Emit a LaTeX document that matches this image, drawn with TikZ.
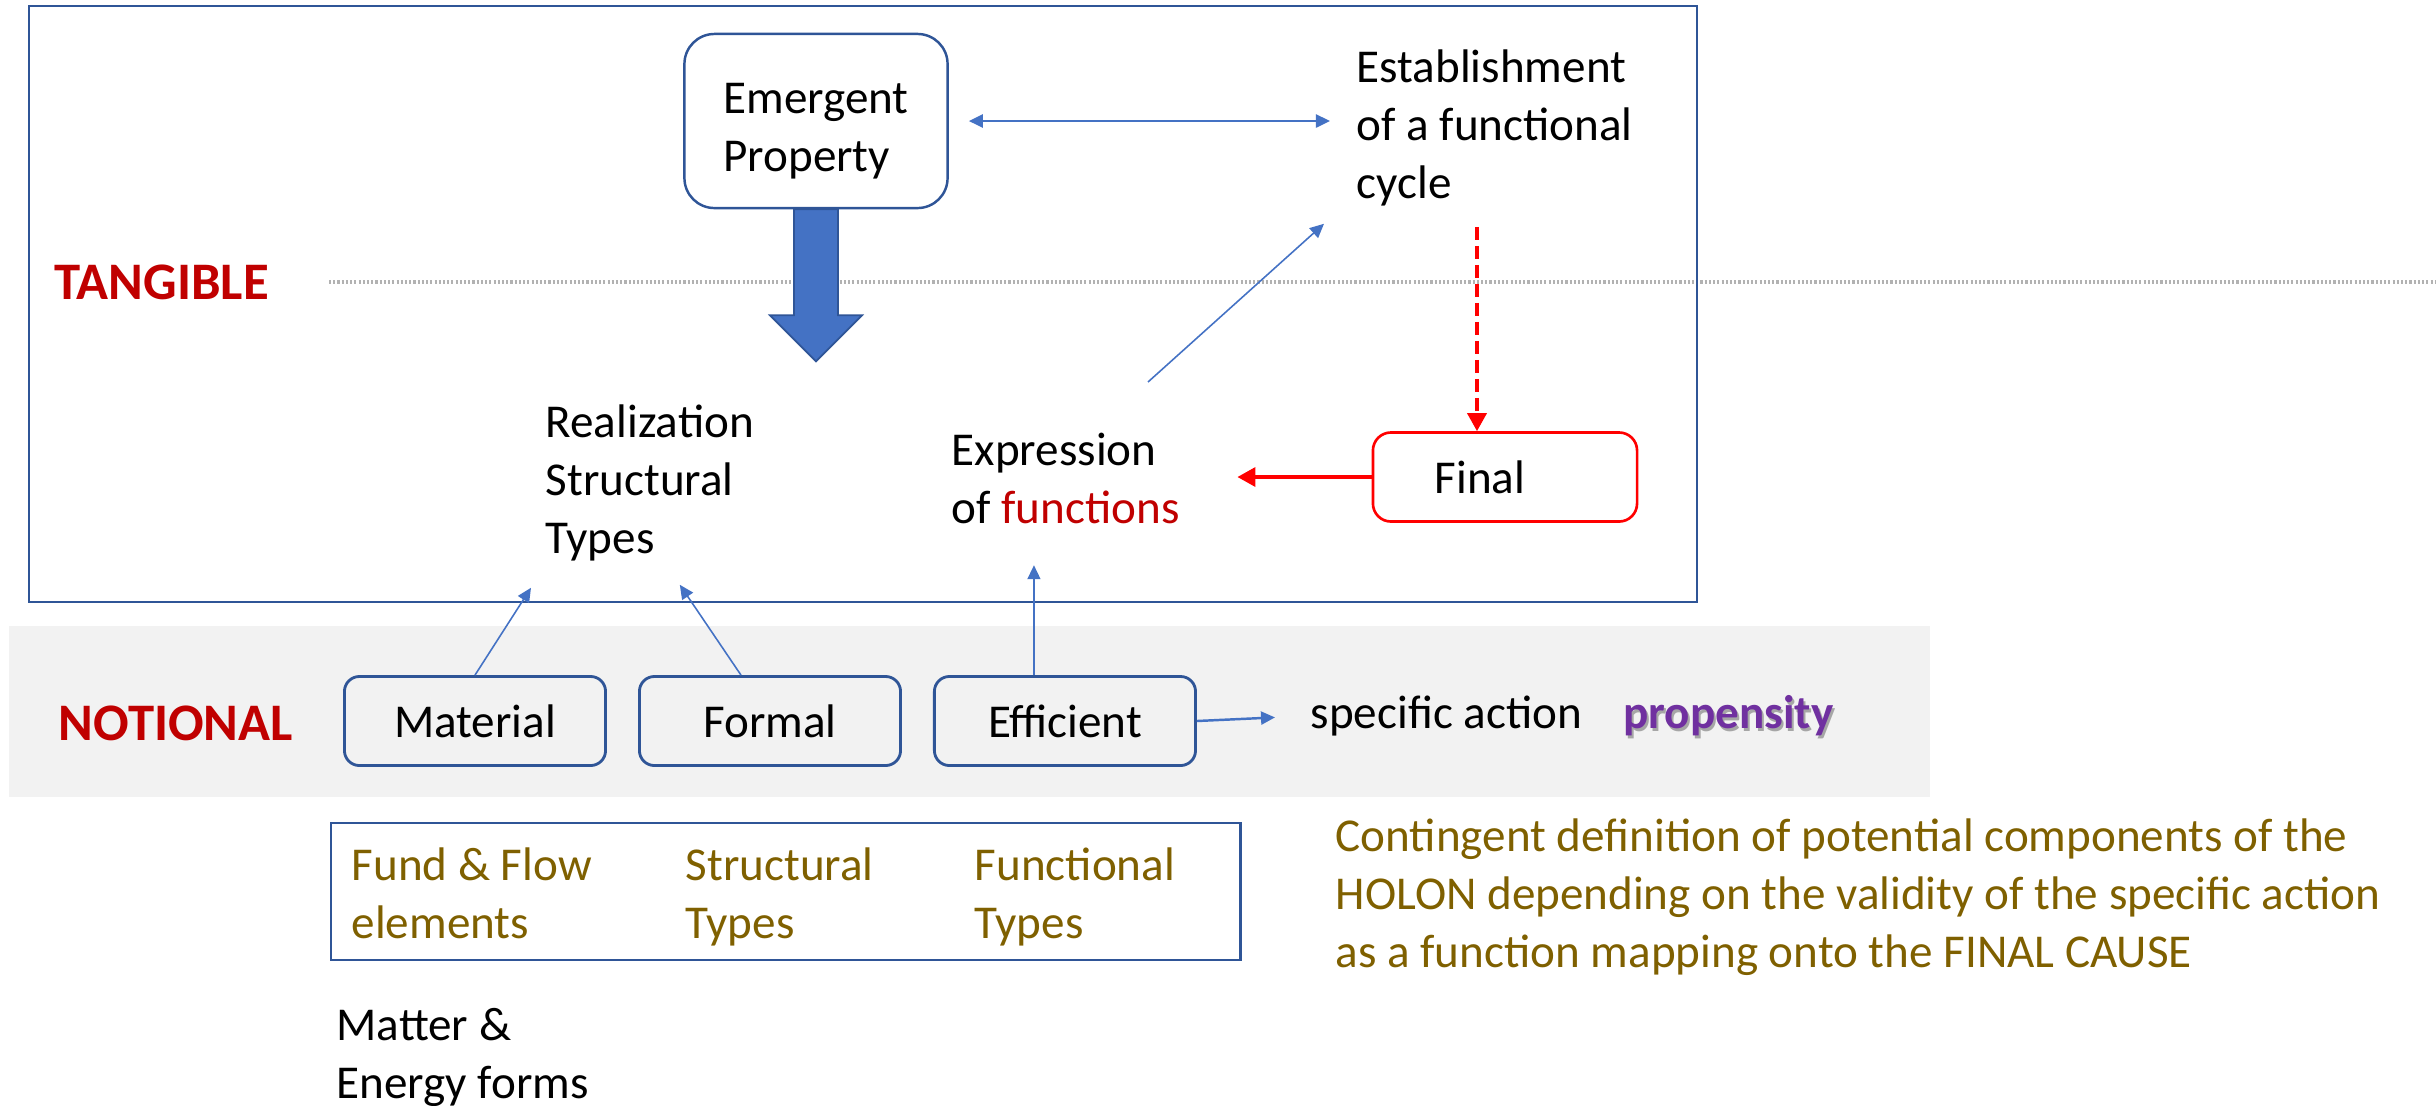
\documentclass[tikz,border=0pt]{standalone}
\usepackage{fontspec}
\setmainfont{Carlito}
\usepackage{xcolor}
\usepackage{tikz}
\usetikzlibrary{positioning, arrows.meta}

\definecolor{frameblue}{HTML}{2F5597}
\definecolor{arrowblue}{HTML}{4472C4}
\definecolor{darkred}{HTML}{C00000}
\definecolor{olivetext}{HTML}{7F6000}
\definecolor{purp}{HTML}{7030A0}
\definecolor{bandgray}{HTML}{F2F2F2}

\begin{document}
\begin{tikzpicture}[
    x=0.01cm, y=-0.01cm,
    every node/.style={font=\fontsize{13.4}{16.5}\selectfont},
    txt/.style={inner sep=0, align=left, anchor=north west},
    level/.style={inner sep=0, anchor=west, text=darkred, font=\fontsize{15}{17}\selectfont\bfseries},
    cause/.style={draw=frameblue, line width=0.8pt, rounded corners=0.15cm,
                  minimum width=2.61cm, minimum height=0.89cm},
    barr/.style={arrowblue, line width=0.45pt, -{Triangle[length=1.4mm, width=1.3mm]}},
    rarr/.style={red, line width=1pt, -{Triangle[length=1.8mm, width=1.9mm]}}
  ]
  \useasboundingbox (0,0) rectangle (2436,1105);
  % layers: band, dotted divide, frame
  \fill[bandgray] (9,626) rectangle (1930,797);
  \draw[black!30, line width=1pt, dash pattern=on 0.6pt off 0.6pt] (329,282) -- (2436,282);
  \draw[frameblue, line width=0.7pt] (29,6) rectangle (1697,602);

  \node[level] (tang) at (54,282) {TANGIBLE};
  \node[level] (notio) at (58,723) {NOTIONAL};

  \node[draw=frameblue, line width=0.7pt, rounded corners=0.3cm, minimum width=2.63cm,
        minimum height=1.74cm, align=left] (emp) at (816,121) {\rule{0pt}{0.5cm}Emergent\\Property};
  \node[txt] (est)  at (1356,49)  {Establishment\\of a functional\\cycle};
  \node[txt] (real) at (545,404)  {Realization\\Structural\\Types};
  \node[txt] (expr) at (951,432)  {Expression\\of \textcolor{darkred}{functions}};
  \node[draw=red, line width=0.75pt, rounded corners=0.18cm, minimum width=2.64cm,
        minimum height=0.89cm] (final) at (1505,477) {\hspace*{-0.5cm}Final};

  \node[cause] (mat) at (475,721) {Material};
  \node[cause, right=0.31cm of mat]  (form) {Formal};
  \node[cause, right=0.31cm of form] (eff)  {Efficient};
  \node[txt] (spec) at (1310,695) {specific action};
  \node[inner sep=0, text=black!35, font=\fontsize{13.4}{16.5}\selectfont\bfseries,
        right=0.4cm of spec, xshift=0.02cm, yshift=-0.03cm] (propsh) {propensity};
  \node[inner sep=0, text=purp, font=\fontsize{13.4}{16.5}\selectfont\bfseries,
        right=0.4cm of spec] (prop) {propensity};

  \node[draw=frameblue, line width=0.7pt, minimum width=9.09cm, minimum height=1.37cm] (kinds) at (785.5,891.5) {};
  \node[txt, text=olivetext] (fund)  at (351,847) {Fund \& Flow\\elements};
  \node[txt, text=olivetext] (struc) at (685,847) {Structural\\Types};
  \node[txt, text=olivetext] (func)  at (974,847) {Functional\\Types};
  \node[txt] (matter) at (336,1008) {Matter \&\\Energy forms};
  \node[txt, text=olivetext] (holon) at (1335,818)
    {Contingent definition of potential components of the\\HOLON depending on the validity of the specific action\\as a function mapping onto the FINAL CAUSE};

  % connectors
  \filldraw[fill=arrowblue, draw=frameblue, line width=0.5pt] ([xshift=-0.22cm]emp.south) -- ++(0,106)
    -- ++(-24,0) -- ++(46,46) -- ++(46,-46) -- ++(-24,0) -- ++(0,-106) -- cycle;
  \draw[barr, line width=0.7pt, {Triangle[length=1.4mm, width=1.3mm]}-{Triangle[length=1.4mm, width=1.3mm]},
        shorten <=0.2cm, shorten >=0.26cm] (emp.east) -- (emp.east -| est.west);
  \draw[barr] ([shift={(197,-50)}]expr.north west) -- ([shift={(-32,17)}]est.south west);
  \draw[rarr, dash pattern=on 1.3mm off 0.6mm, shorten <=0.2cm] ([xshift=-0.28cm]final.north |- est.south)
    -- ([xshift=-0.28cm]final.north);
  \draw[rarr, shorten >=0.57cm] (final.west) -- (final.west -| expr.east);
  \draw[barr] (mat.north) -- ([shift={(-14,26)}]real.south west);
  \draw[barr] ([xshift=-0.29cm]form.north) -- ([shift={(30,23)}]real.south);
  \draw[barr, shorten >=0.41cm] ([xshift=-0.31cm]eff.north) -- ([xshift=-0.31cm]eff.north |- expr.south);
  \draw[barr, line width=0.7pt, shorten >=0.35cm] (eff.east) -- (spec.west);
\end{tikzpicture}
\end{document}
